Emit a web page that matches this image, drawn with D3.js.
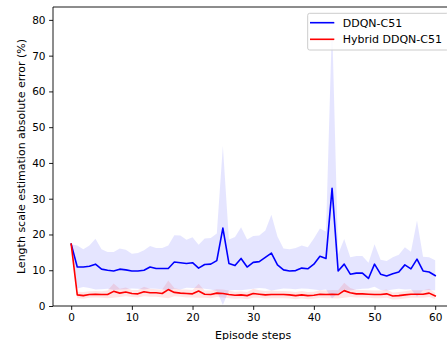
<!DOCTYPE html>
<html>
<head>
<meta charset="utf-8">
<script src="https://cdn.jsdelivr.net/npm/d3@7"></script>
<style>
  body { margin: 0; background: #fff; }
  svg text { font-family: "DejaVu Sans", sans-serif; }
</style>
</head>
<body>
<svg id="chart" width="447" height="340"></svg>
<script>
// Episode steps
const steps = [0,1,2,3,4,5,6,7,8,9,10,11,12,13,14,15,16,17,18,19,20,
  21,22,23,24,25,26,27,28,29,30,31,32,33,34,35,36,37,38,39,40,
  41,42,43,44,45,46,47,48,49,50,51,52,53,54,55,56,57,58,59,60];

// DDQN-C51: mean error and band limits (%)
const ddqnMean = [17.3,10.9,10.9,11.1,11.7,10.3,10.0,9.8,10.3,10.1,9.8,
  9.8,10.0,10.9,10.5,10.5,10.5,12.3,12.1,11.9,12.1,
  10.6,11.6,11.7,12.7,21.8,11.9,11.3,13.3,10.9,12.2,
  12.4,13.6,14.8,11.5,10.1,9.8,9.9,10.6,10.4,11.7,
  13.9,13.3,32.9,9.8,11.7,8.9,9.2,9.2,7.7,11.7,
  8.9,8.4,9.0,9.5,11.5,10.4,13.1,9.8,9.5,8.5];
const ddqnUpper = [17.3,16.9,15.9,16.9,18.8,15.9,15.1,15.1,16.1,15.7,14.6,
  14.8,15.6,16.8,16.2,16.2,16.9,19.8,19.7,18.5,19.2,
  17.1,18.9,19.0,20.3,44.8,18.6,19.3,22.0,18.6,19.6,
  19.7,21.1,25.5,19.4,16.1,15.9,16.2,16.9,16.4,18.9,
  21.7,20.8,79.6,14.5,18.7,13.6,14.0,14.0,12.1,17.3,
  12.9,12.6,13.6,14.3,16.4,15.2,23.9,13.8,13.6,12.8];
const ddqnLower = [17.3,4.9,5.3,5.0,4.6,4.7,4.8,4.5,4.6,4.7,4.9,
  4.8,4.6,4.9,4.8,4.7,4.3,4.8,4.6,5.1,5.0,
  5.0,4.8,4.6,4.2,0.3,4.3,4.5,4.4,4.6,4.8,
  5.0,4.9,4.3,4.6,4.9,4.8,4.7,4.9,4.8,4.6,
  4.4,4.6,2.1,3.6,4.6,4.3,4.6,4.8,4.9,5.4,
  4.5,4.3,4.6,4.8,4.6,4.7,2.6,4.4,4.5,4.3];

// Hybrid DDQN-C51: mean error and band limits (%)
const hybridMean = [17.3,3.1,2.9,3.2,3.3,3.2,3.2,4.1,3.6,3.9,3.5,
  3.4,4.0,3.7,3.7,3.5,4.6,3.8,3.6,3.5,3.4,
  4.2,3.3,3.2,3.6,3.5,3.2,3.0,3.1,2.9,3.5,
  3.3,3.1,3.2,3.2,3.2,3.1,2.9,3.1,2.9,3.0,
  3.3,3.2,3.3,3.2,4.3,3.7,3.4,3.4,3.3,3.2,
  3.2,3.4,2.8,2.9,3.1,3.3,3.3,3.3,3.6,2.8];
const hybridUpper = [17.3,4.0,3.9,4.1,4.2,4.1,4.3,6.3,4.8,5.2,4.5,
  4.5,5.4,4.8,4.7,4.6,7.1,5.0,4.6,4.6,4.5,
  6.2,4.3,4.3,4.7,4.6,4.3,4.0,4.1,3.9,4.8,
  4.4,4.2,4.3,4.2,4.2,4.1,3.9,4.2,3.9,4.0,
  4.4,4.3,4.5,4.4,6.5,5.0,4.5,4.5,4.4,4.3,
  4.3,4.6,3.8,3.9,4.1,4.4,4.4,4.4,4.8,3.7];
const hybridLower = [17.3,2.2,2.0,2.3,2.4,2.3,2.2,2.3,2.5,2.7,2.5,
  2.4,2.7,2.6,2.6,2.4,2.2,2.7,2.6,2.4,2.4,
  2.3,2.3,2.2,2.5,2.4,2.2,2.0,2.1,1.9,2.3,
  2.3,2.1,2.2,2.2,2.2,2.1,1.9,2.1,1.9,2.0,
  2.3,2.2,2.2,2.1,2.3,2.5,2.4,2.4,2.3,2.2,
  2.2,2.3,1.8,1.9,2.1,2.3,2.3,2.3,2.5,1.9];

const xTicks = [0,10,20,30,40,50,60];
const yTicks = [0,10,20,30,40,50,60,70,80];

const seriesList = [
  { name: "DDQN-C51", color: "#0000ff", mean: ddqnMean, lo: ddqnLower, hi: ddqnUpper },
  { name: "Hybrid DDQN-C51", color: "#ff0000", mean: hybridMean, lo: hybridLower, hi: hybridUpper }
];

const svg = d3.select("#chart");
const plot = { left: 53, top: 7, right: 453.4, bottom: 306 };

const x = d3.scaleLinear().domain([-3, 63]).range([plot.left, plot.right]);
const y = d3.scaleLinear().domain([0, 83.6]).range([plot.bottom, plot.top]);

svg.append("defs").append("clipPath").attr("id", "plotClip")
  .append("rect")
  .attr("x", plot.left).attr("y", plot.top)
  .attr("width", plot.right - plot.left).attr("height", plot.bottom - plot.top);

const data = svg.append("g").attr("clip-path", "url(#plotClip)");

// Shaded bands
seriesList.forEach(s => {
  const area = d3.area()
    .x((d, i) => x(steps[i]))
    .y0((d, i) => y(s.lo[i]))
    .y1((d, i) => y(s.hi[i]));
  data.append("path")
    .attr("d", area(steps))
    .attr("fill", s.color)
    .attr("fill-opacity", 0.1)
    .attr("stroke", "none");
});

// Mean lines
seriesList.forEach(s => {
  const line = d3.line()
    .x((d, i) => x(steps[i]))
    .y((d, i) => y(s.mean[i]));
  data.append("path")
    .attr("d", line(steps))
    .attr("fill", "none")
    .attr("stroke", s.color)
    .attr("stroke-width", 1.6)
    .attr("stroke-linejoin", "round")
    .attr("stroke-linecap", "square");
});

// Axes
const xAxis = d3.axisBottom(x).tickValues(xTicks).tickSize(3.9).tickPadding(3.6);
const yAxis = d3.axisLeft(y).tickValues(yTicks).tickSize(3.9).tickPadding(3.6);

const gx = svg.append("g").attr("transform", `translate(0,${plot.bottom})`).call(xAxis);
const gy = svg.append("g").attr("transform", `translate(${plot.left},0)`).call(yAxis);
[gx, gy].forEach(g => {
  g.select(".domain").remove();
  g.selectAll(".tick line").attr("stroke", "#000").attr("stroke-width", 0.9);
  g.selectAll(".tick text").attr("fill", "#000").style("font-size", "10.5px");
});

// Frame
const frame = svg.append("g").attr("stroke", "#000").attr("stroke-width", 0.9).attr("fill", "none");
frame.append("line").attr("x1", plot.left).attr("x2", plot.left).attr("y1", plot.top).attr("y2", plot.bottom);
frame.append("line").attr("x1", plot.left).attr("x2", plot.right).attr("y1", plot.bottom).attr("y2", plot.bottom);
frame.append("line").attr("x1", plot.left).attr("x2", plot.right).attr("y1", plot.top).attr("y2", plot.top);
frame.append("line").attr("x1", plot.right).attr("x2", plot.right).attr("y1", plot.top).attr("y2", plot.bottom);

// Axis titles
svg.append("text")
  .attr("x", (plot.left + plot.right) / 2).attr("y", 338.5)
  .attr("text-anchor", "middle")
  .style("font-size", "11px").attr("fill", "#000")
  .text("Episode steps");
svg.append("text")
  .attr("transform", `translate(24.5,${(plot.top + plot.bottom) / 2}) rotate(-90)`)
  .attr("text-anchor", "middle")
  .style("font-size", "11px").attr("fill", "#000")
  .text("Length scale estimation absolute error (%)");

// Legend
const legend = svg.append("g");
legend.append("rect")
  .attr("x", 307.7).attr("y", 13.3)
  .attr("width", 141).attr("height", 36.7)
  .attr("rx", 2).attr("ry", 2)
  .attr("fill", "#fff").attr("fill-opacity", 0.8)
  .attr("stroke", "#cccccc").attr("stroke-width", 1);
seriesList.forEach((s, i) => {
  const cy = 22.7 + i * 16.6;
  legend.append("line")
    .attr("x1", 310).attr("x2", 334.3).attr("y1", cy).attr("y2", cy)
    .attr("stroke", s.color).attr("stroke-width", 1.6);
  legend.append("text")
    .attr("x", 342.7).attr("y", cy + 4)
    .style("font-size", "11px").attr("fill", "#000")
    .text(s.name);
});
</script>
</body>
</html>
